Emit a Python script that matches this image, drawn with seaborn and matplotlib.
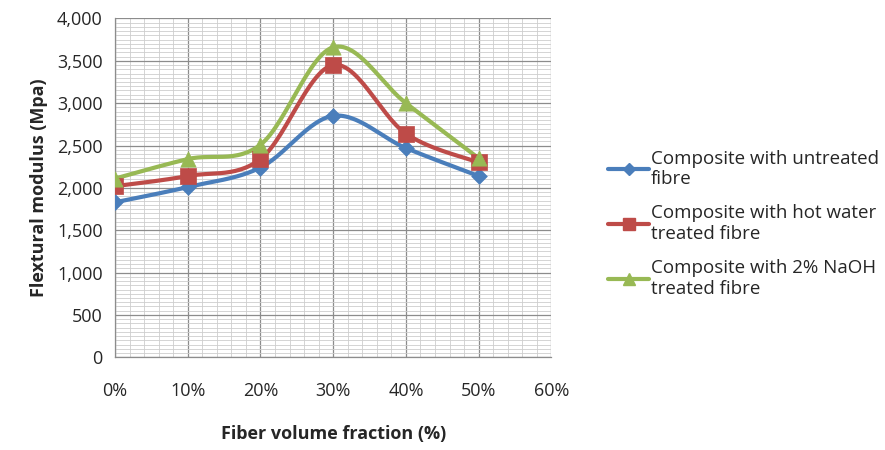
import numpy as np
import pandas as pd
import matplotlib
matplotlib.use("Agg")
import matplotlib.pyplot as plt
from matplotlib.lines import Line2D
from matplotlib.ticker import MultipleLocator, FuncFormatter
import seaborn as sns

# Fibre volume fraction (%) and flexural modulus (MPa)
fraction = [0, 10, 20, 30, 40, 50]
untreated = [1830, 2010, 2240, 2850, 2470, 2140]
hot_water = [2020, 2140, 2340, 3450, 2640, 2300]
naoh = [2110, 2340, 2510, 3660, 3000, 2350]

series_names = [
    "Composite with untreated\nfibre",
    "Composite with hot water\ntreated fibre",
    "Composite with 2% NaOH\ntreated fibre",
]
series_values = [untreated, hot_water, naoh]
colors = ["#4A7EBB", "#BE4B48", "#98B954"]
markers = ["D", "s", "^"]
marker_sizes = [8, 11, 11]

sns.set_theme(style="white")
plt.rcParams["font.family"] = ["Open Sans", "DejaVu Sans"]


def smooth(x, y, n=30):
    """Cardinal-spline smoothing through every data point."""
    x = np.asarray(x, float)
    y = np.asarray(y, float)
    px = np.concatenate([[x[0]], x, [x[-1]]])
    py = np.concatenate([[y[0]], y, [y[-1]]])
    xs, ys = [], []
    t = np.linspace(0, 1, n)
    for i in range(1, len(px) - 2):
        p0 = np.array([px[i], py[i]])
        p3 = np.array([px[i + 1], py[i + 1]])
        p1 = p0 + (np.array([px[i + 1], py[i + 1]]) - np.array([px[i - 1], py[i - 1]])) / 6
        p2 = p3 - (np.array([px[i + 2], py[i + 2]]) - np.array([px[i], py[i]])) / 6
        b = ((1 - t) ** 3)[:, None] * p0 + (3 * (1 - t) ** 2 * t)[:, None] * p1 \
            + (3 * (1 - t) * t ** 2)[:, None] * p2 + (t ** 3)[:, None] * p3
        xs.extend(b[:, 0])
        ys.extend(b[:, 1])
    return np.array(xs), np.array(ys)


fig = plt.figure(figsize=(8.85, 4.5), dpi=100)
ax = fig.add_axes([0.130, 0.206, 0.493, 0.753])

ax.set_xlim(0, 60)
ax.set_ylim(0, 4000)
ax.xaxis.set_major_locator(MultipleLocator(10))
ax.xaxis.set_minor_locator(MultipleLocator(2))
ax.yaxis.set_major_locator(MultipleLocator(500))
ax.yaxis.set_minor_locator(MultipleLocator(50))
ax.grid(which="major", color="#8c8c8c", linewidth=0.9)
ax.grid(which="minor", color="#cdcdcd", linewidth=0.6)
ax.set_axisbelow(True)

for name, vals, c, m, ms in zip(series_names, series_values, colors, markers, marker_sizes):
    sx, sy = smooth(fraction, vals)
    curve = pd.DataFrame({"x": sx, "y": sy})
    sns.lineplot(data=curve, x="x", y="y", ax=ax, color=c, linewidth=3.0,
                 sort=False, estimator=None, zorder=3)
    pts = pd.DataFrame({"x": fraction, "y": vals})
    sns.scatterplot(data=pts, x="x", y="y", ax=ax, color=c, marker=m, s=ms ** 2,
                    edgecolor=c, linewidth=0.5, zorder=4)

for side in ["top", "right"]:
    ax.spines[side].set_visible(False)
for side in ["left", "bottom"]:
    ax.spines[side].set_color("#8c8c8c")
    ax.spines[side].set_linewidth(0.9)

ax.tick_params(axis="both", which="major", length=5, width=0.9, color="#8c8c8c",
               labelsize=13, labelcolor="#262626", direction="out")
ax.tick_params(axis="x", pad=13)
ax.tick_params(axis="y", pad=4)
ax.tick_params(which="minor", length=0)
ax.xaxis.set_major_formatter(FuncFormatter(lambda v, p: f"{v:.0f}%"))
ax.yaxis.set_major_formatter(FuncFormatter(lambda v, p: f"{v:,.0f}"))

ax.set_xlabel("Fiber volume fraction (%)", fontsize=13, fontweight="bold",
              color="#262626", labelpad=18)
ax.set_ylabel("Flextural modulus (Mpa)", fontsize=13, fontweight="bold",
              color="#262626", labelpad=6)

handles = [Line2D([0], [0], color=c, linewidth=3.0, marker=m, markersize=ms * 0.8,
                  markeredgecolor=c)
           for c, m, ms in zip(colors, markers, marker_sizes)]
fig.legend(handles, series_names, loc="upper left", bbox_to_anchor=(0.668, 0.705),
           frameon=False, fontsize=13.5, labelcolor="#262626", handlelength=2.2,
           handletextpad=0.1, labelspacing=0.85)

fig.savefig("out.png", dpi=100)
